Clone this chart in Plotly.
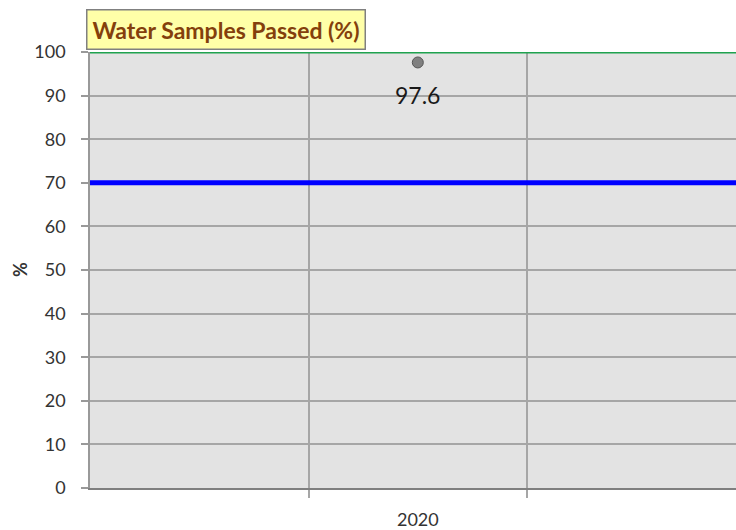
import plotly.graph_objects as go

years = [2020]
x_pos = [0]
passed_pct = [97.6]
target_line = 70
max_line = 100
y_ticks = list(range(0, 101, 10))

FONT = "Lato"

fig = go.Figure()

fig.add_trace(go.Scatter(x=[-1.5, 1.5], y=[max_line, max_line], mode="lines",
                         line=dict(color="#1fa24f", width=3), hoverinfo="skip", showlegend=False))
fig.add_trace(go.Scatter(x=[-1.5, 1.5], y=[target_line, target_line], mode="lines",
                         line=dict(color="#0000ff", width=5), hoverinfo="skip", showlegend=False))

fig.add_trace(go.Scatter(
    x=x_pos, y=passed_pct, mode="markers",
    marker=dict(color="#808080", size=11, line=dict(color="#555555", width=1)),
    showlegend=False,
))

annotations = [
    dict(
        text="<b>Water Samples Passed (%)</b>",
        xref="paper", yref="paper", x=0, y=1, xanchor="left", yanchor="bottom",
        xshift=-4, yshift=2, showarrow=False,
        font=dict(family=FONT, size=23, color="#843f0c"),
        bgcolor="#ffffa8", bordercolor="#808080", borderwidth=1.5, borderpad=5,
    ),
    dict(
        text="<b>%</b>", xref="paper", yref="paper", x=0, y=0.5,
        xanchor="center", yanchor="middle", xshift=-70, textangle=-90,
        showarrow=False, font=dict(family=FONT, size=18, color="#333333"),
    ),
]
for xv, v in zip(x_pos, passed_pct):
    annotations.append(dict(
        text=f"{v:.1f}", x=xv, y=v, xref="x", yref="y", showarrow=False,
        yanchor="middle", yshift=-33,
        font=dict(family=FONT, size=23, color="#1a1a1a"),
    ))

fig.update_layout(
    width=736, height=530,
    margin=dict(l=90, r=0, t=52, b=36),
    paper_bgcolor="white", plot_bgcolor="#e3e3e3",
    font=dict(family=FONT, size=18, color="#333333"),
    xaxis=dict(
        range=[-1.5, 1.456],
        tickmode="array", tickvals=x_pos, ticktext=[str(y) for y in years],
        ticks="", showgrid=False, zeroline=False,
        showline=True, linecolor="#7f7f7f", linewidth=1.5,
        tickfont=dict(family=FONT, size=18, color="#333333"),
        ticklabelstandoff=15,
        minor=dict(tickmode="array", tickvals=[-0.5, 0.5, 1.5], showgrid=True,
                   gridcolor="#a6a6a6", gridwidth=1.5, ticks="outside",
                   ticklen=8, tickcolor="#a6a6a6", tickwidth=1.5),
        fixedrange=True,
    ),
    yaxis=dict(
        range=[0, 100], tickmode="array", tickvals=y_ticks,
        showgrid=True, gridcolor="#a6a6a6", gridwidth=1.5, zeroline=False,
        showline=True, linecolor="#999999", linewidth=1.5,
        ticks="outside", ticklen=7, tickcolor="#999999", tickwidth=1.5,
        tickfont=dict(family=FONT, size=18, color="#333333"),
        ticklabelstandoff=12,
        fixedrange=True,
    ),
    annotations=annotations,
)

fig.write_html("out.html", config={"displayModeBar": False},
               post_script="document.body.style.margin='0';document.body.style.padding='0';")
